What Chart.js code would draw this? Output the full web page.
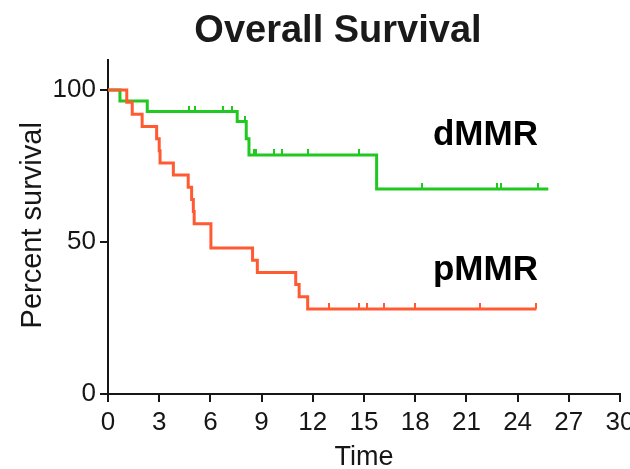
<!DOCTYPE html>
<html>
<head>
<meta charset="utf-8">
<script src="https://cdn.jsdelivr.net/npm/chart.js@4/dist/chart.umd.min.js"></script>
<style>
html,body{margin:0;padding:0;background:#ffffff;}
#wrap{width:630px;height:469px;}
</style>
</head>
<body>
<div id="wrap"><canvas id="c" width="630" height="469"></canvas></div>
<script>
// ---------- data ----------
const chartTitle = 'Overall Survival';
const xAxisTitle = 'Time';
const yAxisTitle = 'Percent survival';
const xTickValues = [0, 3, 6, 9, 12, 15, 18, 21, 24, 27, 30];
const yTickValues = [0, 50, 100];
const groupNames = ['pMMR', 'dMMR'];

// pMMR (red/orange) Kaplan-Meier curve
const pmmrEventTimes = [1.1, 1.42, 2.0, 2.85, 3.0, 3.05, 3.83, 4.7, 4.9, 5.0, 5.05, 6.03, 8.47, 8.75, 11.0, 11.2, 11.7];
const pmmrSurvival   = [96, 92, 88, 84, 80, 76, 72, 68, 64, 60, 56, 48, 44, 40, 36, 32, 28];
const pmmrCensorTimes = [12.97, 14.7, 15.19, 16.19, 17.98, 21.8, 25.07];
const pmmrLastTime = 25.1;

// dMMR (green) Kaplan-Meier curve
const dmmrEventTimes = [0.7, 2.3, 7.57, 8.1, 8.26, 15.74];
const dmmrSurvival   = [96.4, 92.9, 89.6, 84.0, 78.6, 67.4];
const dmmrCensorTimes = [4.76, 5.1, 6.76, 7.28, 8.0, 8.55, 8.7, 9.74, 10.2, 11.73, 14.72, 18.38, 22.8, 23.0, 25.17];
const dmmrLastTime = 25.8;

// ---------- styling ----------
const pmmrColor = '#ff5a32';
const dmmrColor = '#20c820';
const inkColor = '#161616';
const fontFamily = '"Liberation Sans", Arial, Helvetica, sans-serif';

// ---------- helpers ----------
function kmSteps(times, surv, lastTime) {
  const pts = [{x: 0, y: 100}];
  let prev = 100;
  times.forEach((t, i) => {
    pts.push({x: t, y: prev});
    pts.push({x: t, y: surv[i]});
    prev = surv[i];
  });
  pts.push({x: lastTime, y: prev});
  return pts;
}
function survivalAt(times, surv, t) {
  let v = 100;
  times.forEach((tt, i) => { if (tt <= t) v = surv[i]; });
  return v;
}
function censorPoints(censor, times, surv) {
  return censor.map(t => ({x: t, y: survivalAt(times, surv, t)}));
}
function tickMark(color) {
  const cv = document.createElement('canvas');
  cv.width = 2; cv.height = 12;
  const g = cv.getContext('2d');
  g.fillStyle = color;
  g.fillRect(0, 0, 2, 6);
  return cv;
}

const labelPlugin = {
  id: 'groupLabels',
  afterDraw(chart) {
    const {ctx, scales: {x, y}} = chart;
    ctx.save();
    ctx.fillStyle = '#000000';
    ctx.font = 'bold 35px ' + fontFamily;
    ctx.textAlign = 'left';
    ctx.textBaseline = 'alphabetic';
    ctx.fillText(groupNames[1], x.getPixelForValue(19.04), y.getPixelForValue(81.9));
    ctx.fillText(groupNames[0], x.getPixelForValue(19.04), y.getPixelForValue(37.5));
    // y axis title
    ctx.fillStyle = inkColor;
    ctx.font = '29px ' + fontFamily;
    ctx.textAlign = 'center';
    ctx.textBaseline = 'middle';
    ctx.translate(33, y.getPixelForValue(55.5));
    ctx.rotate(-Math.PI / 2);
    ctx.fillText(yAxisTitle, 0, 0);
    ctx.restore();
  }
};

const axisGrid = {
  drawOnChartArea: false,
  drawTicks: true,
  tickLength: 8,
  color: inkColor,
  lineWidth: 2
};

new Chart(document.getElementById('c'), {
  type: 'line',
  data: {
    datasets: [
      {
        label: groupNames[0],
        data: kmSteps(pmmrEventTimes, pmmrSurvival, pmmrLastTime),
        borderColor: pmmrColor,
        borderWidth: 3,
        pointRadius: 0,
        tension: 0,
        fill: false
      },
      {
        label: groupNames[0] + ' censored',
        type: 'scatter',
        data: censorPoints(pmmrCensorTimes, pmmrEventTimes, pmmrSurvival),
        pointStyle: tickMark(pmmrColor),
        showLine: false
      },
      {
        label: groupNames[1],
        data: kmSteps(dmmrEventTimes, dmmrSurvival, dmmrLastTime),
        borderColor: dmmrColor,
        borderWidth: 3,
        pointRadius: 0,
        tension: 0,
        fill: false
      },
      {
        label: groupNames[1] + ' censored',
        type: 'scatter',
        data: censorPoints(dmmrCensorTimes, dmmrEventTimes, dmmrSurvival),
        pointStyle: tickMark(dmmrColor),
        showLine: false
      }
    ]
  },
  options: {
    responsive: false,
    animation: false,
    devicePixelRatio: 1,
    layout: {padding: {left: 46, right: 0, top: 0, bottom: 0}},
    plugins: {
      legend: {display: false},
      tooltip: {enabled: false},
      title: {
        display: true,
        text: chartTitle,
        color: '#1a1a1a',
        font: {family: fontFamily, size: 38, weight: 'bold', lineHeight: 1.2},
        padding: {top: 9, bottom: 5}
      }
    },
    scales: {
      x: {
        type: 'linear',
        min: 0,
        max: 30,
        afterBuildTicks: s => { s.ticks = xTickValues.map(v => ({value: v})); },
        afterFit: s => { s.height = 75; s.paddingRight = 10; },
        ticks: {color: inkColor, font: {family: fontFamily, size: 26}, padding: 5, autoSkip: false, maxRotation: 0},
        grid: axisGrid,
        border: {display: true, color: inkColor, width: 2},
        title: {display: true, text: xAxisTitle, color: inkColor, font: {family: fontFamily, size: 27, lineHeight: 0.85}, padding: 0}
      },
      y: {
        type: 'linear',
        min: 0,
        max: 110,
        afterBuildTicks: s => { s.ticks = yTickValues.map(v => ({value: v})); },
        afterFit: s => { s.width = 62; },
        ticks: {color: inkColor, font: {family: fontFamily, size: 26}, padding: 4},
        grid: axisGrid,
        border: {display: true, color: inkColor, width: 2},
        title: {display: false, text: yAxisTitle}
      }
    }
  },
  plugins: [labelPlugin]
});
</script>
</body>
</html>
